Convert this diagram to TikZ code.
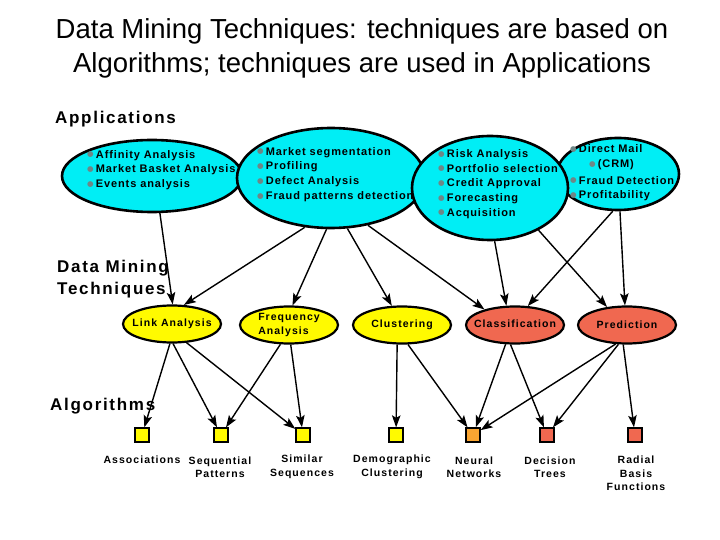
\documentclass[tikz,border=0pt]{standalone}
\usepackage{fontspec}
\setmainfont{Liberation Sans}
\newfontfamily\headfont[LetterSpace=10]{Liberation Sans}
\newfontfamily\appfont[LetterSpace=8]{Liberation Sans}
\newfontfamily\lblfont[LetterSpace=10]{Liberation Sans}
\newfontfamily\symfont{DejaVu Sans}
\usetikzlibrary{arrows.meta,shapes.geometric}
\definecolor{appcyan}{RGB}{0,238,245}
\definecolor{techyellow}{RGB}{255,250,0}
\definecolor{techred}{RGB}{240,104,80}
\definecolor{algorange}{RGB}{250,165,50}
\definecolor{bulletgray}{RGB}{110,135,135}
\newcommand{\bul}{\raisebox{1.3pt}{\symfont\fontsize{7.5}{7.5}\selectfont\textcolor{bulletgray}{●}}\hspace{2.2pt}}
\begin{document}
\begin{tikzpicture}[x=1pt,y=-1pt,
  appell/.style={ellipse, draw=black, line width=2.6pt, fill=appcyan, inner sep=0pt},
  techell/.style={ellipse, draw=black, line width=2.2pt, inner sep=0pt, minimum width=98pt, minimum height=37pt},
  apptext/.style={anchor=west, inner sep=0pt, align=left, font=\appfont\bfseries\fontsize{11}{14.7}\selectfont},
  techtext/.style={inner sep=0pt, font=\lblfont\bfseries\fontsize{10.5}{13.5}\selectfont},
  algbox/.style={rectangle, draw=black, line width=1.3pt, minimum size=14pt, inner sep=0pt},
  algtext/.style={inner sep=0pt, align=center, font=\lblfont\bfseries\fontsize{10.5}{13.5}\selectfont},
  heading/.style={anchor=west, inner sep=0pt, align=left, font=\headfont\bfseries\fontsize{17}{22}\selectfont},
  edge/.style={line width=1.4pt, -{Stealth[length=12pt,width=8.5pt,inset=2.5pt]}}
]
\useasboundingbox[fill=white] (0,0) rectangle (720,540);

% title
\node[inner sep=0pt, align=center, font=\fontsize{27.5}{34}\selectfont] (title) at (362,48)
  {Data Mining Techniques: techniques are based on\\Algorithms; techniques are used in Applications};

% headings
\node[heading] (happ) at (55,119) {Applications};
\node[heading] (htech) at (57,279) {Data Mining\\Techniques};
\node[heading] (halg) at (50,406) {Algorithms};

% application ellipses
\node[appell, minimum width=180pt, minimum height=72pt] (a1) at (152,176) {};
\node[apptext] (a1t) at (87,170) {\bul Affinity Analysis\\\bul Market Basket Analysis\\\bul Events analysis};
\node[appell, minimum width=188pt, minimum height=100pt] (a2) at (331,178) {};
\node[apptext] (a2t) at (257,174.5) {\bul Market segmentation\\\bul Profiling\\\bul Defect Analysis\\\bul Fraud patterns detection};
\node[appell, minimum width=122pt, minimum height=72pt] (a4) at (618,174) {};
\node[apptext] (a4t) at (570,173) {\bul Direct Mail\\\hspace{19pt}\bul (CRM)\\[2pt]\bul Fraud Detection\\\bul Profitability};
\node[appell, minimum width=156pt, minimum height=104pt] (a3) at (490,188) {};
\node[apptext] (a3t) at (438,184) {\bul Risk Analysis\\\bul Portfolio selection\\\bul Credit Approval\\\bul Forecasting\\\bul Acquisition};

% technique ellipses
\node[techell, fill=techyellow] (t1) at (172,324) {};
\node[techtext] (t1t) at (t1) {Link Analysis};
\node[techell, fill=techyellow] (t2) at (289,325) {};
\node[techtext, align=left] (t2t) at (289,325) {Frequency\\Analysis};
\node[techell, fill=techyellow] (t3) at (402,325) {};
\node[techtext] (t3t) at (t3) {Clustering};
\node[techell, fill=techred] (t4) at (515,325) {};
\node[techtext] (t4t) at (515,324) {Classification};
\node[techell, fill=techred] (t5) at (627,325) {};
\node[techtext] (t5t) at (t5) {Prediction};

% algorithm boxes
\node[algbox, fill=techyellow] (s1) at (142,435) {};
\node[algbox, fill=techyellow] (s2) at (221,435) {};
\node[algbox, fill=techyellow] (s3) at (303,435) {};
\node[algbox, fill=techyellow] (s4) at (396,435) {};
\node[algbox, fill=algorange] (s5) at (473,435) {};
\node[algbox, fill=techred] (s6) at (547,435) {};
\node[algbox, fill=techred] (s7) at (635,435) {};

\node[algtext] (s1t) at (142,460) {Associations};
\node[algtext] (s2t) at (220,467) {Sequential\\Patterns};
\node[algtext] (s3t) at (302,467) {Similar\\Sequences};
\node[algtext] (s4t) at (392,467) {Demographic\\Clustering};
\node[algtext] (s5t) at (474,467) {Neural\\Networks};
\node[algtext] (s6t) at (550,467) {Decision\\Trees};
\node[algtext] (s7t) at (636,473.5) {Radial\\Basis\\Functions};

% applications -> techniques
\draw[edge] (a1.282) -- (t1.88);
\draw[edge] (a2.242) -- (t1.58);
\draw[edge] (a2.265) -- (t2.80);
\draw[edge] (a2.288) -- (t3.118);
\draw[edge] (a2.308) -- (t4.153);
\draw[edge] (a3.275) -- (t4.114);
\draw[edge] (a3.319) -- (t5.138);
\draw[edge] (a4.262) -- (t4.56);
\draw[edge] (a4.273) -- (t5.96);

% techniques -> algorithms
\draw[edge] (t1.264) -- (s1);
\draw[edge] (t1.273) -- (s2);
\draw[edge] (t1.308) -- (s3);
\draw[edge] (t2.246) -- (s2);
\draw[edge] (t2.275) -- (s3);
\draw[edge] (t3.256) -- (s4);
\draw[edge] (t3.287) -- (s5);
\draw[edge] (t4.244) -- (s5);
\draw[edge] (t4.257) -- (s6);
\draw[edge] (t5.239) -- (s5);
\draw[edge] (t5.246) -- (s6);
\draw[edge] (t5.259) -- (s7);
\end{tikzpicture}
\end{document}
